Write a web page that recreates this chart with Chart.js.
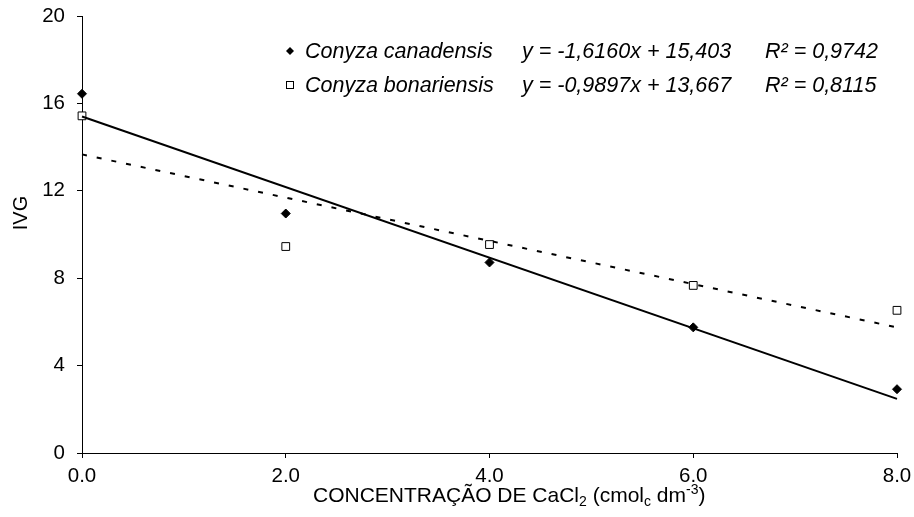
<!DOCTYPE html>
<html><head><meta charset="utf-8">
<script src="https://cdn.jsdelivr.net/npm/chart.js@4"></script>
<style>html,body{margin:0;padding:0;background:#fff;}#wrap{width:914px;height:517px;position:relative;}</style>
</head><body><div id="wrap"><canvas id="c" width="914" height="517"></canvas></div>
<script>
const concentrations = [0, 2, 4, 6, 8];
const canadensisValues = [16.44, 10.96, 8.72, 5.75, 2.92];
const bonariensisValues = [15.43, 9.45, 9.54, 7.67, 6.53];
const trendX = [0, 8];
const canadensisTrend = [15.403, 2.475];   // y = -1,6160x + 15,403
const bonariensisTrend = [13.667, 5.749];  // y = -0,9897x + 13,667
const yTicks = [0, 4, 8, 12, 16, 20];
const xTicks = [0, 2, 4, 6, 8];
const legendRows = [
  {name: 'Conyza canadensis', eq: 'y = -1,6160x + 15,403', r2: 'R² = 0,9742', marker: 'diamond'},
  {name: 'Conyza bonariensis', eq: 'y = -0,9897x + 13,667', r2: 'R² = 0,8115', marker: 'square'}
];

const pts = (xs, ys) => xs.map((x, i) => ({x, y: ys[i]}));
const FONT = '"Liberation Sans", Arial, sans-serif';

const overlay = {
  id: 'overlay',
  afterDraw(chart) {
    const ctx = chart.ctx;
    ctx.save();
    ctx.fillStyle = '#000';
    ctx.font = 'italic 21.5px ' + FONT;
    ctx.textBaseline = 'alphabetic';
    legendRows.forEach((r, i) => {
      const base = 58 + i * 34;
      const my = base - 7;
      if (r.marker === 'diamond') {
        ctx.beginPath();
        ctx.moveTo(290, my - 4); ctx.lineTo(294, my); ctx.lineTo(290, my + 4); ctx.lineTo(286, my); ctx.closePath();
        ctx.fill();
      } else {
        ctx.strokeStyle = '#000'; ctx.lineWidth = 1;
        ctx.strokeRect(286.5, my - 3.5, 7, 7);
      }
      ctx.fillText(r.name, 305, base);
      ctx.fillText(r.eq, 522, base);
      ctx.fillText(r.r2, 765, base);
    });
    ctx.save();
    ctx.translate(27, 213);
    ctx.rotate(-Math.PI / 2);
    ctx.font = '20px ' + FONT;
    ctx.textAlign = 'center';
    ctx.textBaseline = 'alphabetic';
    ctx.fillText('IVG', 0, 0);
    ctx.restore();
    const parts = [
      {t: 'CONCENTRAÇÃO DE CaCl', s: 21, dy: 0},
      {t: '2', s: 14, dy: 4},
      {t: ' (cmol', s: 21, dy: 0},
      {t: 'c', s: 14, dy: 4},
      {t: ' dm', s: 21, dy: 0},
      {t: '-3', s: 14, dy: -8},
      {t: ')', s: 21, dy: 0}
    ];
    ctx.textAlign = 'left';
    let x = 313;
    parts.forEach(p => { ctx.font = p.s + 'px ' + FONT; ctx.fillText(p.t, x, 502 + p.dy); x += ctx.measureText(p.t).width; });
    ctx.restore();
  }
};

function zeroPad(s) { s.paddingTop = 0; s.paddingBottom = 0; s.paddingLeft = 0; s.paddingRight = 0; }

new Chart(document.getElementById('c'), {
  type: 'scatter',
  data: {
    datasets: [
      {label: 'Conyza canadensis (tendência)', data: pts(trendX, canadensisTrend), showLine: true, borderColor: '#000', borderWidth: 2, pointRadius: 0, fill: false, clip: false},
      {label: 'Conyza bonariensis (tendência)', data: pts(trendX, bonariensisTrend), showLine: true, borderColor: '#000', borderWidth: 2, borderDash: [5, 10], pointRadius: 0, fill: false, clip: false},
      {label: 'Conyza canadensis', data: pts(concentrations, canadensisValues), pointStyle: 'rectRot', pointRadius: 4.5, backgroundColor: '#000', borderColor: '#000', borderWidth: 1, clip: false},
      {label: 'Conyza bonariensis', data: pts(concentrations, bonariensisValues), pointStyle: 'rect', pointRadius: 5.5, backgroundColor: '#fff', borderColor: '#000', borderWidth: 1, clip: false}
    ]
  },
  options: {
    responsive: false,
    animation: false,
    devicePixelRatio: 1,
    layout: {autoPadding: false, padding: {top: 16, right: 17, left: 0, bottom: 0}},
    plugins: {legend: {display: false}, tooltip: {enabled: false}},
    scales: {
      x: {
        type: 'linear', min: 0, max: 8,
        afterFit(s) { s.height = 64; zeroPad(s); },
        afterBuildTicks(s) { s.ticks = xTicks.map(v => ({value: v})); },
        ticks: {color: '#000', font: {size: 20.5, family: FONT}, padding: 6, callback: v => v.toFixed(1), maxRotation: 0},
        grid: {display: true, drawOnChartArea: false, drawTicks: true, tickLength: 5, color: '#000'},
        border: {display: true, color: '#000', width: 1}
      },
      y: {
        min: 0, max: 20,
        afterFit(s) { s.width = 82; zeroPad(s); },
        afterBuildTicks(s) { s.ticks = yTicks.map(v => ({value: v})); },
        ticks: {color: '#000', font: {size: 20.5, family: FONT}, padding: 12},
        grid: {display: true, drawOnChartArea: false, drawTicks: true, tickLength: 5, color: '#000'},
        border: {display: true, color: '#000', width: 1}
      }
    }
  },
  plugins: [overlay]
});
</script>
</body></html>
